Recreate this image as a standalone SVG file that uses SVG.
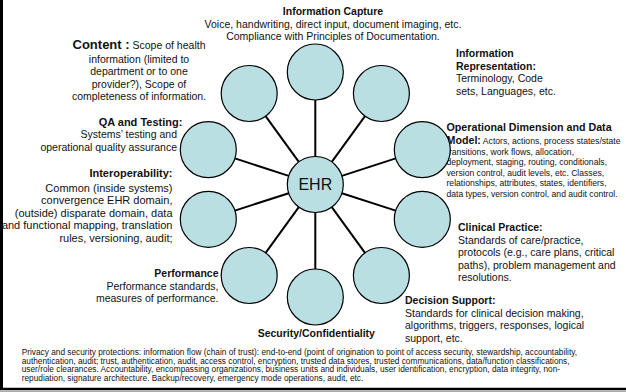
<svg xmlns="http://www.w3.org/2000/svg" width="626" height="392" viewBox="0 0 626 392">
<style>
text{font-family:"Liberation Sans",Arial,sans-serif;fill:#111;font-size:10.5px}
.b{font-weight:bold}
.s{font-size:8.6px}
.p{font-size:8.3px}
.i{font-size:11px}
.m{text-anchor:middle}
.e{text-anchor:end}
.node{fill:#B9DFE2;stroke:#000;stroke-width:1.2}
.conn line{stroke:#000;stroke-width:2}
</style>
<rect x="0" y="0" width="626" height="392" fill="#fff"/>
<g id="frame">
<line x1="1.5" y1="0" x2="1.5" y2="390" stroke="#000" stroke-width="3"/>
<line x1="0" y1="389" x2="626" y2="389" stroke="#000" stroke-width="2.5"/>
<line x1="0" y1="391.3" x2="626" y2="391.3" stroke="#999" stroke-width="1"/>
</g>
<g class="conn" id="connectors">
<line x1="315.3" y1="156.5" x2="315.3" y2="100"/>
<line x1="331.8" y1="161.9" x2="365.0" y2="116.1"/>
<line x1="341.9" y1="175.9" x2="395.7" y2="158.4"/>
<line x1="341.9" y1="193.2" x2="395.7" y2="210.6"/>
<line x1="331.8" y1="207.2" x2="365.0" y2="252.9"/>
<line x1="315.3" y1="212.5" x2="315.3" y2="269"/>
<line x1="298.8" y1="207.2" x2="265.6" y2="252.9"/>
<line x1="288.7" y1="193.2" x2="234.9" y2="210.6"/>
<line x1="288.7" y1="175.9" x2="234.9" y2="158.4"/>
<line x1="298.8" y1="161.9" x2="265.6" y2="116.1"/>
</g>
<g id="ehr">
<circle class="node" cx="315.3" cy="184.5" r="28"/>
<text x="315.3" y="190.2" class="m" style="font-size:16px">EHR</text>
</g>
<g id="information-capture">
<text x="333" y="15" class="m b">Information Capture</text>
<text x="333" y="27.5" class="m">Voice, handwriting, direct input, document imaging, etc.</text>
<text x="333" y="40" class="m">Compliance with Principles of Documentation.</text>
<circle class="node" cx="315.3" cy="72" r="28"/>
</g>
<g id="information-representation">
<text x="456" y="57" class="b">Information</text>
<text x="456" y="69.5" class="b">Representation:</text>
<text x="456" y="82">Terminology, Code</text>
<text x="456" y="94.5">sets, Languages, etc.</text>
<circle class="node" cx="381.4" cy="93.5" r="28"/>
</g>
<g id="operational-dimension">
<text x="446.5" y="131" class="b" style="font-size:10.7px">Operational Dimension and Data</text>
<text x="446.5" y="144"><tspan class="b" style="font-size:10.7px">Model:</tspan><tspan class="s"> Actors, actions, process states/state</tspan></text>
<text x="446.5" y="154.5" class="s">transitions, work flows, allocation,</text>
<text x="446.5" y="165" class="s">deployment, staging, routing, conditionals,</text>
<text x="446.5" y="175.5" class="s">version control, audit levels, etc. Classes,</text>
<text x="446.5" y="186" class="s">relationships, attributes, states, identifiers,</text>
<text x="446.5" y="196.5" class="s">data types, version control, and audit control.</text>
<circle class="node" cx="422.3" cy="149.7" r="28"/>
</g>
<g id="clinical-practice">
<text x="458" y="231" class="b">Clinical Practice:</text>
<text x="458" y="243.5">Standards of care/practice,</text>
<text x="458" y="256">protocols (e.g., care plans, critical</text>
<text x="458" y="268.5">paths), problem management and</text>
<text x="458" y="281">resolutions.</text>
<circle class="node" cx="422.3" cy="219.3" r="28"/>
</g>
<g id="decision-support">
<text x="405" y="304" class="b">Decision Support:</text>
<text x="405" y="316.5">Standards for clinical decision making,</text>
<text x="405" y="329">algorithms, triggers, responses, logical</text>
<text x="405" y="341.5">support, etc.</text>
<circle class="node" cx="381.4" cy="275.5" r="28"/>
</g>
<g id="security">
<text x="316.3" y="337" class="m b">Security/Confidentiality</text>
<text x="21.7" y="355" class="p">Privacy and security protections: information flow (chain of trust): end-to-end (point of origination to point of access security, stewardship, accountability,</text>
<text x="21.7" y="363.5" class="p">authentication, audit; trust, authentication, audit, access control, encryption, trusted data stores, trusted communications, data/function classifications,</text>
<text x="21.7" y="372" class="p">user/role clearances.  Accountability, encompassing organizations, business units and individuals, user identification, encryption, data integrity, non-</text>
<text x="21.7" y="380.5" class="p">repudiation, signature architecture.  Backup/recovery,  emergency mode operations, audit, etc.</text>
<circle class="node" cx="315.3" cy="297" r="28"/>
</g>
<g id="performance">
<text x="218.5" y="277.3" class="e b">Performance</text>
<text x="218.5" y="289.5" class="e">Performance standards,</text>
<text x="218.5" y="301.7" class="e">measures of performance.</text>
<circle class="node" cx="249.2" cy="275.5" r="28"/>
</g>
<g id="interoperability">
<text x="172.5" y="177.3" class="e b i">Interoperability:</text>
<text x="172.5" y="191.5" class="e i">Common (inside systems)</text>
<text x="172.5" y="204" class="e i">convergence EHR domain,</text>
<text x="172.5" y="216.5" class="e i">(outside) disparate domain, data</text>
<text x="172.5" y="229" class="e i">and functional mapping, translation</text>
<text x="172.5" y="241.5" class="e i">rules, versioning, audit;</text>
<circle class="node" cx="208.3" cy="219.3" r="28"/>
</g>
<g id="qa-testing">
<text x="140.5" y="125.7" class="m b i">QA and Testing:</text>
<text x="177" y="138" class="e">Systems’ testing and</text>
<text x="177" y="150.7" class="e">operational quality assurance</text>
<circle class="node" cx="208.3" cy="149.7" r="28"/>
</g>
<g id="content">
<text x="139" y="49" class="m"><tspan class="b" style="font-size:13px">Content :</tspan> Scope of health</text>
<text x="139" y="62.5" class="m">information (limited to</text>
<text x="139" y="75" class="m">department or to one</text>
<text x="139" y="87.5" class="m">provider?), Scope of</text>
<text x="139" y="100" class="m">completeness of information.</text>
<circle class="node" cx="249.2" cy="93.5" r="28"/>
</g>
</svg>
